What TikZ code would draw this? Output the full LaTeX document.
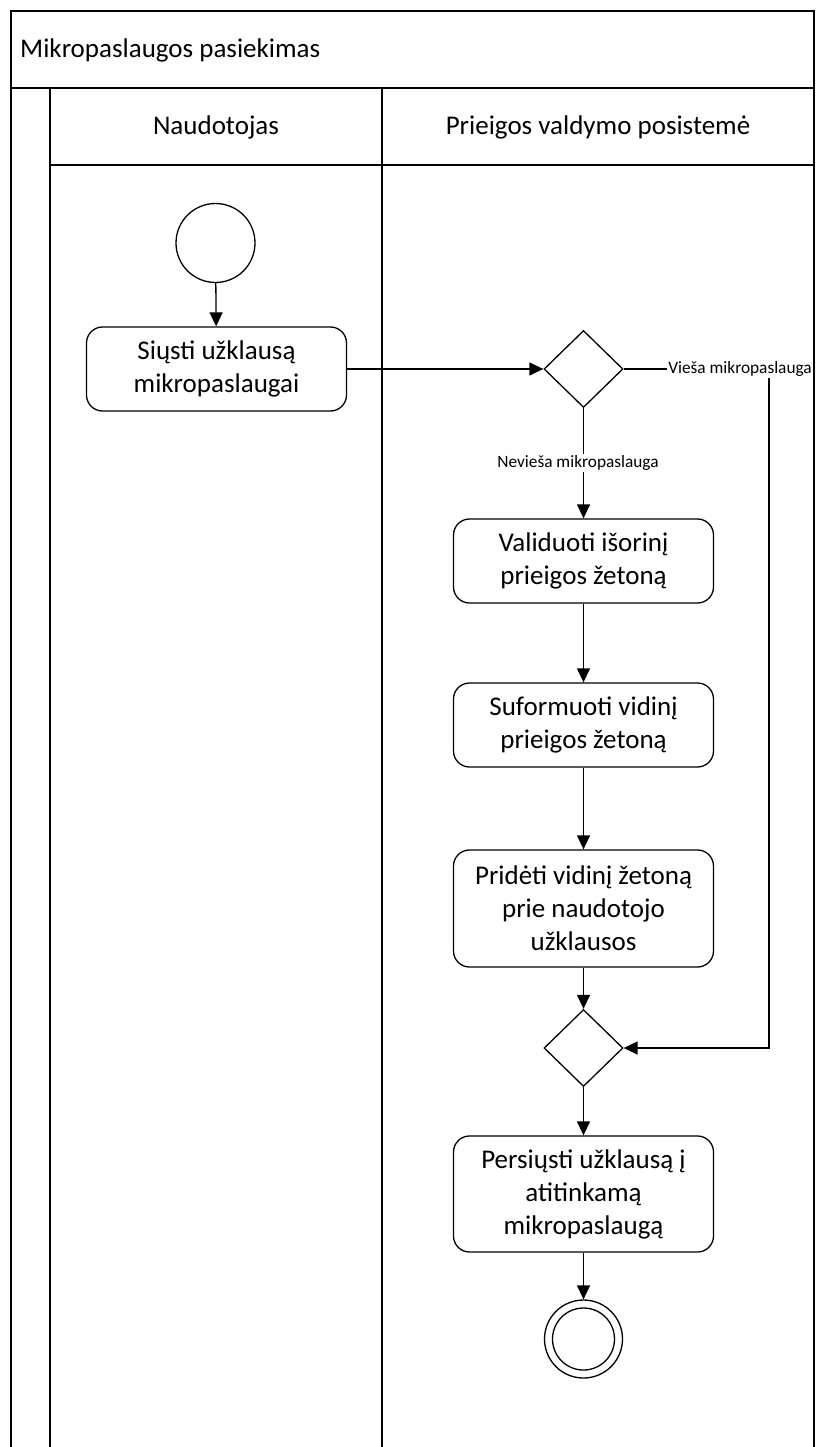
\documentclass[tikz,border=0pt]{standalone}
\usepackage{fontspec}
\setmainfont{Carlito}
\usetikzlibrary{shapes.geometric,arrows.meta}
\begin{document}
\begin{tikzpicture}[x=1pt,y=-1pt,
  frame/.style={line width=1.6pt},
  act/.style={draw,line width=1.3pt,rounded corners=16pt,minimum width=260pt,minimum height=84pt,inner sep=0pt,align=center,font=\fontsize{27}{33}\selectfont},
  dec/.style={draw,diamond,line width=1.3pt,minimum width=79pt,minimum height=77pt,inner sep=0pt},
  ini/.style={draw,circle,line width=1.3pt,inner sep=0pt},
  flow/.style={line width=1.3pt,-{Triangle[length=14pt,width=13pt]}},
  lbl/.style={fill=white,inner sep=1.5pt,font=\fontsize{17.3}{20}\selectfont},
  hdr/.style={font=\fontsize{27}{33}\selectfont,inner sep=0pt}]
\useasboundingbox (0,0) rectangle (818,1447);
\fill[white] (0,0) rectangle (818,1447);

% nodes
\node[ini,minimum size=79pt] (start) at (215.5,243) {};
\node[act] (b1) at (216.5,369) {Siųsti užklausą\\mikropaslaugai};
\node[dec] (d1) at (583.5,369) {};
\node[act] (b2) at (583.5,561) {Validuoti išorinį\\prieigos žetoną};
\node[act] (b3) at (583.5,725) {Suformuoti vidinį\\prieigos žetoną};
\node[act,minimum height=117pt] (b4) at (583.5,908.5) {Pridėti vidinį žetoną\\prie naudotojo\\užklausos};
\node[dec] (d2) at (583.5,1048) {};
\node[act,minimum height=116pt] (b5) at (583.5,1194) {Persiųsti užklausą į\\atitinkamą\\mikropaslaugą};
\node[ini,minimum size=78pt] (endo) at (583.5,1339) {};
\node[ini,minimum size=62pt] (endi) at (endo.center) {};
\coordinate (vc) at (769,369);

% connectors
\draw[flow] (start) -- (b1);
\draw[flow] (b1.east) -- (d1.west);
\draw[flow] (d1.south) -- (b2.north);
\draw[flow] (b2) -- (b3);
\draw[flow] (b3) -- (b4);
\draw[flow] (b4) -- (d2);
\draw[flow] (d1.east) -- (vc) |- (d2.east);
\draw[flow] (d2) -- (b5);
\draw[flow] (b5) -- (endo);

% labels
\node[lbl] (lv) at (740,369) {Vieša mikropaslauga};
\node[lbl] (ln) at (578,463) {Nevieša mikropaslauga};

% swimlane frame
\draw[frame] (11,1447) -- (11,11) -- (814,11) -- (814,1447);
\draw[frame] (11,88) -- (814,88);
\draw[frame] (50,88) -- (50,1447);
\draw[frame] (50,165) -- (814,165);
\draw[frame] (382,88) -- (382,1447);
\node[hdr,anchor=west] (title) at (20,50) {Mikropaslaugos pasiekimas};
\node[hdr] (lane1) at (216,127) {Naudotojas};
\node[hdr] (lane2) at (598,127) {Prieigos valdymo posistemė};
\end{tikzpicture}
\end{document}
